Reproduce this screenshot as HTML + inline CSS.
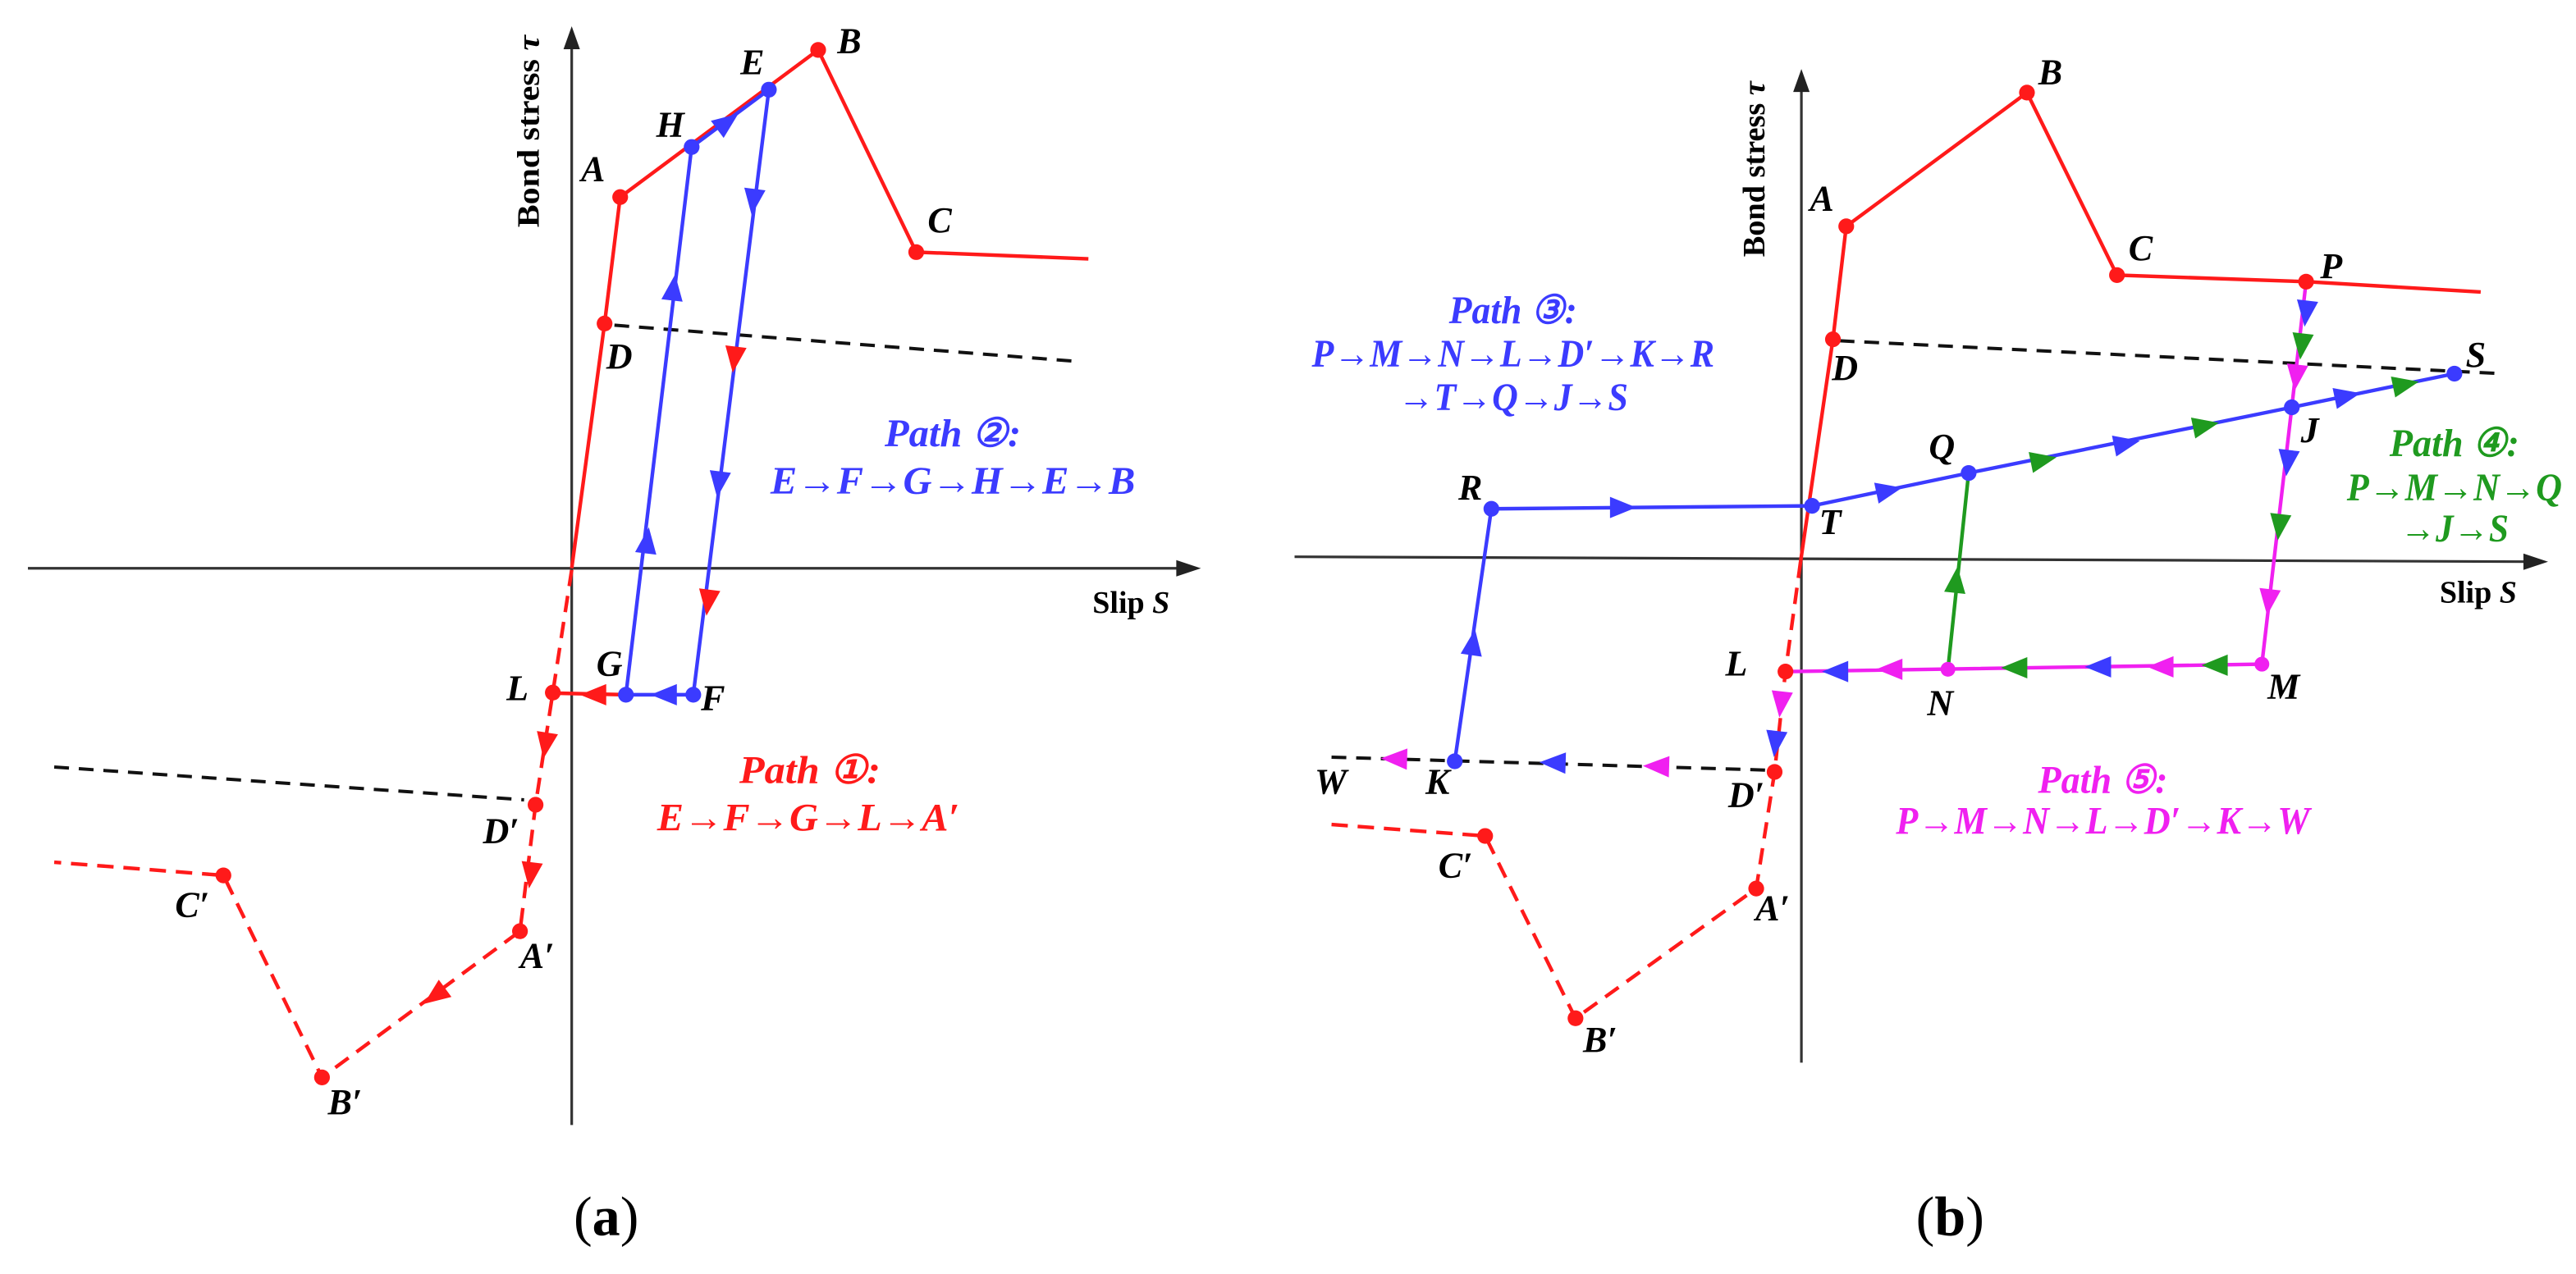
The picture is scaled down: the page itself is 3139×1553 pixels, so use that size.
<!DOCTYPE html>
<html><head><meta charset="utf-8"><style>
html,body{margin:0;padding:0;background:#fff;}
svg{display:block;}
text{font-family:"Liberation Serif",serif;}
.l{font-weight:bold;font-style:italic;font-size:22px;fill:#000;text-anchor:middle;dominant-baseline:central;}
.p{font-weight:bold;font-style:italic;font-size:24px;text-anchor:middle;dominant-baseline:central;}
.ax{font-weight:bold;font-size:19px;fill:#000;}
</style></head><body>
<svg width="3139" height="1553" viewBox="0 0 1568 775.7" preserveAspectRatio="none" xmlns="http://www.w3.org/2000/svg">
<defs>
<path id="ah" d="M8,0 L-8,-6.5 L-8,6.5Z"/>
</defs>
<rect width="1568" height="776" fill="#fff"/>

<!-- ============ PANEL A ============ -->
<g stroke="#333" stroke-width="1.6" fill="none">
<line x1="348" y1="24" x2="348" y2="685"/>
<line x1="17" y1="346" x2="722" y2="346"/>
</g>
<path d="M348,16 L343,30 L353,30Z" fill="#222"/>
<path d="M731,346 L716,341 L716,351Z" fill="#222"/>
<text class="ax" transform="translate(322,80) rotate(-90)" text-anchor="middle" dominant-baseline="central" textLength="117" lengthAdjust="spacingAndGlyphs">Bond stress <tspan font-style="italic">τ</tspan></text>
<text class="ax" x="665" y="373">Slip <tspan font-style="italic">S</tspan></text>

<g stroke="#111" stroke-width="2" stroke-dasharray="9 6" fill="none">
<line x1="374" y1="198" x2="655" y2="220"/>
<line x1="33" y1="467" x2="319" y2="487"/>
</g>
<polyline points="348,346 368,197 377.5,120 498,30.4 557.7,153.5 662.5,157.6" fill="none" stroke="#ff1a1a" stroke-width="2.2"/>
<polyline points="348,347 336.5,421.7 326,490 316.5,567 196,656 136,533 33,525" fill="none" stroke="#ff1a1a" stroke-width="2.2" stroke-dasharray="10 6"/>
<line x1="381" y1="423" x2="336.5" y2="422" stroke="#ff1a1a" stroke-width="2.2"/>
<g stroke="#3b3bff" stroke-width="2.2" fill="none">
<line x1="421" y1="89.5" x2="468" y2="54.6"/>
<line x1="468" y1="54.6" x2="422" y2="423"/>
<line x1="422" y1="423" x2="381" y2="423"/>
<line x1="381" y1="423" x2="421" y2="89.5"/>
</g>
<g fill="#3b3bff">
<use href="#ah" transform="translate(443,74) rotate(-36.7)"/>
<use href="#ah" transform="translate(410,175) rotate(-83.2)"/>
<use href="#ah" transform="translate(394,329) rotate(-83.2)"/>
<use href="#ah" transform="translate(458.5,123) rotate(97.1)"/>
<use href="#ah" transform="translate(437.5,295) rotate(97.1)"/>
<use href="#ah" transform="translate(404,423) rotate(180)"/>
</g>
<g fill="#ff1a1a">
<use href="#ah" transform="translate(447,219) rotate(97.1)"/>
<use href="#ah" transform="translate(431,367) rotate(97.1)"/>
<use href="#ah" transform="translate(361,423) rotate(180)"/>
<use href="#ah" transform="translate(332,454) rotate(98.8)"/>
<use href="#ah" transform="translate(323,533) rotate(97)"/>
<use href="#ah" transform="translate(264.5,606.5) rotate(143.6)"/>
</g>
<g fill="#ff1a1a">
<circle cx="377.5" cy="120" r="4.8"/><circle cx="368" cy="197" r="4.8"/><circle cx="498" cy="30.4" r="4.8"/>
<circle cx="557.7" cy="153.5" r="4.8"/><circle cx="336.5" cy="421.7" r="4.8"/><circle cx="326" cy="490" r="4.8"/>
<circle cx="316.5" cy="567" r="4.8"/><circle cx="196" cy="656" r="4.8"/><circle cx="136" cy="533" r="4.8"/>
</g>
<g fill="#3b3bff">
<circle cx="468" cy="54.6" r="4.8"/><circle cx="421" cy="89.5" r="4.8"/><circle cx="422" cy="423" r="4.8"/><circle cx="381" cy="423" r="4.8"/>
</g>
<text class="l" x="361" y="103">A</text>
<text class="l" x="517" y="25">B</text>
<text class="l" x="572" y="134">C</text>
<text class="l" x="377" y="217">D</text>
<text class="l" x="458" y="38">E</text>
<text class="l" x="408" y="76">H</text>
<text class="l" x="371" y="404">G</text>
<text class="l" x="434" y="425">F</text>
<text class="l" x="315" y="419">L</text>
<text class="l" x="305" y="506">D′</text>
<text class="l" x="327" y="582">A′</text>
<text class="l" x="210" y="671">B′</text>
<text class="l" x="117" y="551">C′</text>
<text class="p" fill="#3b3bff" x="580" y="264" textLength="83" lengthAdjust="spacingAndGlyphs">Path ②:</text>
<text class="p" fill="#3b3bff" x="580" y="293" textLength="222" lengthAdjust="spacingAndGlyphs">E→F→G→H→E→B</text>
<text class="p" fill="#ff1a1a" x="493" y="469" textLength="86" lengthAdjust="spacingAndGlyphs">Path ①:</text>
<text class="p" fill="#ff1a1a" x="492" y="498" textLength="184" lengthAdjust="spacingAndGlyphs">E→F→G→L→A′</text>

<text x="369" y="752" font-size="34" text-anchor="middle" fill="#000">(<tspan font-weight="bold">a</tspan>)</text>
<text x="1187" y="752" font-size="34" text-anchor="middle" fill="#000">(<tspan font-weight="bold">b</tspan>)</text>

<!-- ============ PANEL B ============ -->
<g stroke="#333" stroke-width="1.6" fill="none">
<line x1="1096.5" y1="50" x2="1096.5" y2="647"/>
<line x1="788" y1="339" x2="1542" y2="342"/>
</g>
<path d="M1096.5,42 L1091.5,56 L1101.5,56Z" fill="#222"/>
<path d="M1551,342 L1536,337 L1536,347Z" fill="#222"/>
<text class="ax" transform="translate(1068,103) rotate(-90)" text-anchor="middle" dominant-baseline="central" textLength="107" lengthAdjust="spacingAndGlyphs">Bond stress <tspan font-style="italic">τ</tspan></text>
<text class="ax" x="1485" y="367">Slip <tspan font-style="italic">S</tspan></text>

<g stroke="#111" stroke-width="2" stroke-dasharray="9 6" fill="none">
<line x1="1119.8" y1="207.5" x2="1522.8" y2="227.5"/>
<line x1="810.5" y1="461" x2="1079" y2="469"/>
</g>
<polyline points="1096,342 1115.7,206.6 1123.8,137.8 1233.8,56.4 1288.6,167.5 1403.7,171.5 1510,177.8" fill="none" stroke="#ff1a1a" stroke-width="2.2"/>
<polyline points="1096,342 1086.8,408.9 1080.2,470 1069,541 959,620 904,509 810.5,502" fill="none" stroke="#ff1a1a" stroke-width="2.2" stroke-dasharray="10 6"/>
<polyline points="885.5,463.5 907.8,309.8 1103,308 1198.3,288 1395,248 1494,227.5" fill="none" stroke="#3b3bff" stroke-width="2.2"/>
<line x1="1185.7" y1="407.5" x2="1198.3" y2="288" stroke="#1f9a1f" stroke-width="2.2"/>
<polyline points="1403.7,171.5 1395,248 1376.8,404.4 1086.8,408.9" fill="none" stroke="#f020f0" stroke-width="2.2"/>
<g fill="#3b3bff">
<use href="#ah" transform="translate(988,309) rotate(0)"/>
<use href="#ah" transform="translate(1150,298.6) rotate(-11.9)"/>
<use href="#ah" transform="translate(1294.7,270) rotate(-11.5)"/>
<use href="#ah" transform="translate(1429,241) rotate(-11.7)"/>
<use href="#ah" transform="translate(1403.7,191) rotate(96.5)"/>
<use href="#ah" transform="translate(1392.5,282) rotate(96.6)"/>
<use href="#ah" transform="translate(1277,406) rotate(180)"/>
<use href="#ah" transform="translate(1117,408.9) rotate(180)"/>
<use href="#ah" transform="translate(896.7,391) rotate(-81.7)"/>
<use href="#ah" transform="translate(1080.7,453) rotate(96.4)"/>
<use href="#ah" transform="translate(945,464.4) rotate(181.7)"/>
</g>
<g fill="#1f9a1f">
<use href="#ah" transform="translate(1244,280) rotate(-11.5)"/>
<use href="#ah" transform="translate(1342.8,259) rotate(-11.5)"/>
<use href="#ah" transform="translate(1464.5,234) rotate(-11.7)"/>
<use href="#ah" transform="translate(1401,211) rotate(96.5)"/>
<use href="#ah" transform="translate(1387.4,321) rotate(96.6)"/>
<use href="#ah" transform="translate(1348,405) rotate(180)"/>
<use href="#ah" transform="translate(1226,406.6) rotate(180)"/>
<use href="#ah" transform="translate(1190.7,353) rotate(-84)"/>
</g>
<g fill="#f020f0">
<use href="#ah" transform="translate(1397.6,230) rotate(96.5)"/>
<use href="#ah" transform="translate(1380.9,366.7) rotate(96.6)"/>
<use href="#ah" transform="translate(1315,406) rotate(180)"/>
<use href="#ah" transform="translate(1150,407.5) rotate(180)"/>
<use href="#ah" transform="translate(1084,429) rotate(96.4)"/>
<use href="#ah" transform="translate(1008,466.6) rotate(181.7)"/>
<use href="#ah" transform="translate(848.5,462) rotate(181.7)"/>
</g>
<g fill="#ff1a1a">
<circle cx="1123.8" cy="137.8" r="4.8"/><circle cx="1115.7" cy="206.6" r="4.8"/><circle cx="1233.8" cy="56.4" r="4.8"/>
<circle cx="1288.6" cy="167.5" r="4.8"/><circle cx="1403.7" cy="171.5" r="4.8"/><circle cx="1086.8" cy="408.9" r="4.8"/>
<circle cx="1080.2" cy="470" r="4.8"/><circle cx="1069" cy="541" r="4.8"/><circle cx="959" cy="620" r="4.8"/><circle cx="904" cy="509" r="4.8"/>
</g>
<g fill="#3b3bff">
<circle cx="907.8" cy="309.8" r="4.8"/><circle cx="1103" cy="308" r="4.8"/><circle cx="1198.3" cy="288" r="4.8"/>
<circle cx="1395" cy="248" r="4.8"/><circle cx="1494" cy="227.5" r="4.8"/><circle cx="885.5" cy="463.5" r="4.8"/>
</g>
<g fill="#f020f0">
<circle cx="1376.8" cy="404.4" r="4.5"/><circle cx="1185.7" cy="407.5" r="4.5"/>
</g>
<text class="l" x="1109" y="121">A</text>
<text class="l" x="1248" y="44">B</text>
<text class="l" x="1303" y="151">C</text>
<text class="l" x="1419" y="162">P</text>
<text class="l" x="1123" y="224">D</text>
<text class="l" x="1507" y="216">S</text>
<text class="l" x="1406" y="262">J</text>
<text class="l" x="1182" y="272">Q</text>
<text class="l" x="895" y="297">R</text>
<text class="l" x="1114" y="318">T</text>
<text class="l" x="1057" y="404">L</text>
<text class="l" x="1181" y="428">N</text>
<text class="l" x="1390" y="418">M</text>
<text class="l" x="810" y="476">W</text>
<text class="l" x="875" y="476">K</text>
<text class="l" x="1063" y="484">D′</text>
<text class="l" x="886" y="527">C′</text>
<text class="l" x="1079" y="553">A′</text>
<text class="l" x="974" y="633">B′</text>

<text class="p" fill="#3b3bff" x="921" y="189" textLength="78" lengthAdjust="spacingAndGlyphs">Path ③:</text>
<text class="p" fill="#3b3bff" x="921" y="215.5" textLength="245" lengthAdjust="spacingAndGlyphs">P→M→N→L→D′→K→R</text>
<text class="p" fill="#3b3bff" x="921" y="242" textLength="140" lengthAdjust="spacingAndGlyphs">→T→Q→J→S</text>
<text class="p" fill="#1f9a1f" x="1494" y="270" textLength="79" lengthAdjust="spacingAndGlyphs">Path ④:</text>
<text class="p" fill="#1f9a1f" x="1494" y="297" textLength="131" lengthAdjust="spacingAndGlyphs">P→M→N→Q</text>
<text class="p" fill="#1f9a1f" x="1494" y="322" textLength="66" lengthAdjust="spacingAndGlyphs">→J→S</text>
<text class="p" fill="#f020f0" x="1280" y="475" textLength="79" lengthAdjust="spacingAndGlyphs">Path ⑤:</text>
<text class="p" fill="#f020f0" x="1280" y="500" textLength="252" lengthAdjust="spacingAndGlyphs">P→M→N→L→D′→K→W</text>
</svg>
</body></html>
